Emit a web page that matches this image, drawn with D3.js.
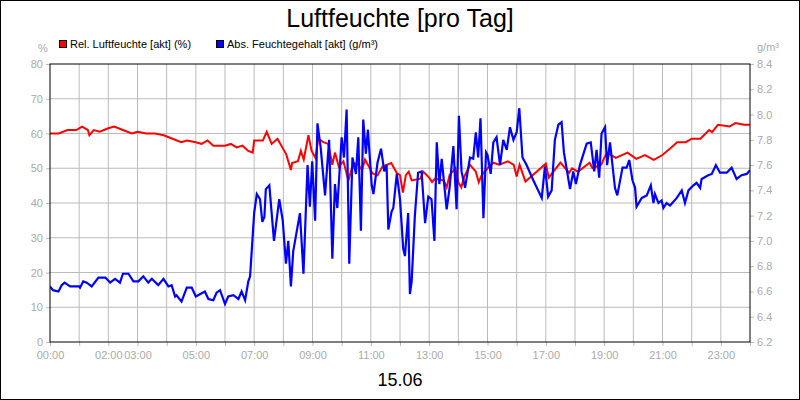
<!DOCTYPE html>
<html><head><meta charset="utf-8">
<script src="https://cdn.jsdelivr.net/npm/d3@7"></script>
<style>body{margin:0}svg{display:block;font-family:"Liberation Sans",Arial,sans-serif}</style>
</head><body><svg id="c" width="800" height="400"></svg>
<script>
// time in hours, rel. humidity in %
var relTime = [0,0.3,0.6,0.9,1.1,1.3,1.35,1.5,1.7,2.0,2.2,2.5,2.8,3.0,3.3,3.6,3.9,4.2,4.5,4.7,5.0,5.2,5.4,5.6,6.0,6.2,6.4,6.6,6.8,6.95,7.0,7.3,7.43,7.6,7.8,8.1,8.26,8.3,8.5,8.6,8.7,8.86,8.97,9.1,9.2,9.37,9.54,9.68,9.77,9.9,10.06,10.23,10.4,10.57,10.7,10.8,10.9,11.06,11.23,11.4,11.7,11.9,12.0,12.1,12.2,12.3,12.4,12.7,12.8,13.0,13.1,13.2,13.5,13.6,13.7,13.9,14.0,14.1,14.2,14.4,14.6,14.7,14.8,15.0,15.2,15.4,15.7,15.9,16.0,16.1,16.3,17.0,17.1,17.5,17.8,17.9,18.1,18.5,18.6,18.9,19.0,19.1,19.4,19.8,20.1,20.4,20.7,21.0,21.4,21.5,21.8,22.0,22.3,22.6,22.7,22.9,23.3,23.5,23.8,24.0];
var relVals = [60,60,61,61,62,61,59.5,61,60.5,61.5,62,61,60,60.5,60,60,59.5,58.5,57.5,58,57.5,57,58,56.5,56.5,57,56,56.5,55,54.5,58,58,60.5,57,58.5,54,49.5,51.5,52,55,52.5,59.5,55,53,58.5,57.5,57,51,54.5,50.5,52,46.5,51.5,51,49.5,52.5,51,48.5,48,50.5,51.5,48.5,48,43,48,49,46.5,47,49,47.3,46,47,46.5,44.5,48,50,46,44.5,47.5,51,49,46,48,50,51.6,51,52,51,47.6,51,46.2,51.3,47.3,51.6,48.7,50,49,51.6,50,51,53,54.5,53,54.5,52.7,53.8,52.4,53.8,56.7,57.5,57.5,58.5,58.5,61,60.4,62.5,62,63,62.5,62.5];
// time in hours, abs. humidity in g/m³
var absTime = [0,0.1,0.29,0.4,0.5,0.69,1.0,1.03,1.14,1.26,1.43,1.66,1.9,2.06,2.23,2.4,2.5,2.69,2.86,3.03,3.2,3.37,3.49,3.71,3.89,4.06,4.17,4.29,4.34,4.51,4.69,4.86,5.0,5.31,5.43,5.6,5.71,5.83,6.0,6.11,6.29,6.46,6.57,6.69,6.8,6.86,7.0,7.09,7.2,7.28,7.35,7.4,7.52,7.68,7.86,7.98,8.09,8.17,8.26,8.34,8.57,8.69,8.83,8.91,8.99,9.09,9.17,9.28,9.43,9.57,9.68,9.77,9.85,10.0,10.08,10.17,10.26,10.37,10.49,10.57,10.66,10.74,10.83,10.9,11.03,11.09,11.23,11.35,11.46,11.54,11.6,11.71,11.77,11.89,12.0,12.11,12.17,12.28,12.34,12.4,12.51,12.62,12.74,12.86,12.97,13.08,13.18,13.26,13.35,13.43,13.6,13.7,13.83,13.94,14.02,14.11,14.23,14.4,14.51,14.6,14.68,14.76,14.86,14.95,15.0,15.11,15.2,15.31,15.43,15.54,15.66,15.77,15.89,16.0,16.09,16.2,16.34,16.57,16.86,16.97,17.08,17.2,17.31,17.43,17.54,17.62,17.83,17.94,18.03,18.17,18.4,18.54,18.66,18.74,18.83,18.91,19.03,19.1,19.2,19.37,19.45,19.63,19.77,19.86,19.97,20.06,20.11,20.29,20.46,20.6,20.69,20.74,20.86,20.97,21.03,21.14,21.26,21.49,21.66,21.77,21.89,22.06,22.17,22.29,22.34,22.57,22.69,22.83,22.97,23.2,23.37,23.54,23.71,23.89,24.0];
var absVals = [6.64,6.61,6.6,6.65,6.67,6.64,6.64,6.63,6.68,6.67,6.64,6.71,6.71,6.67,6.7,6.67,6.74,6.74,6.68,6.68,6.72,6.67,6.7,6.65,6.7,6.64,6.65,6.56,6.57,6.52,6.63,6.63,6.56,6.6,6.54,6.53,6.59,6.61,6.5,6.56,6.57,6.54,6.6,6.53,6.68,6.72,7.22,7.37,7.33,7.15,7.19,7.41,7.44,7.0,7.33,7.16,6.82,7.0,6.64,6.92,7.22,6.74,7.6,7.27,7.63,7.16,7.93,7.74,7.36,7.8,6.86,7.45,7.26,7.82,7.66,8.04,6.82,7.66,7.53,7.82,7.08,7.96,7.69,7.88,7.44,7.37,7.62,7.73,7.55,7.6,7.09,7.23,7.26,7.53,7.33,6.94,6.88,7.22,6.58,6.68,7.2,7.54,7.55,7.14,7.35,7.33,7.0,7.78,7.45,7.65,7.25,7.42,7.75,7.25,7.99,7.55,7.42,7.66,7.65,7.86,7.66,7.97,7.18,7.7,7.68,7.53,7.78,7.82,7.6,7.8,7.72,7.9,7.8,7.86,8.05,7.66,7.6,7.48,7.34,7.59,7.35,7.4,7.8,7.92,7.94,7.7,7.41,7.55,7.45,7.6,7.77,7.78,7.55,7.72,7.5,7.85,7.9,7.6,7.78,7.42,7.36,7.58,7.58,7.64,7.48,7.42,7.27,7.34,7.36,7.44,7.3,7.37,7.3,7.32,7.26,7.3,7.28,7.34,7.4,7.3,7.4,7.44,7.46,7.42,7.49,7.52,7.53,7.6,7.54,7.54,7.58,7.49,7.52,7.53,7.56];
var xTickHours = [0,2,3,5,7,9,11,13,15,17,19,21,23];
var leftTicks = [0,10,20,30,40,50,60,70,80];
var rightTicks = [6.2,6.4,6.6,6.8,7.0,7.2,7.4,7.6,7.8,8.0,8.2,8.4];

var svg = d3.select("#c");
var L = 50, R = 750, T = 64, B = 342;
var x = d3.scaleLinear().domain([0,24]).range([L,R]);
var yL = d3.scaleLinear().domain([0,80]).range([B,T]);
var yR = d3.scaleLinear().domain([6.2,8.4]).range([B,T]);
var grey = "#bbb";

svg.append("rect").attr("x",0.5).attr("y",0.5).attr("width",799).attr("height",399).attr("fill","#fff").attr("stroke","#000");
svg.append("text").attr("x",400).attr("y",27).attr("text-anchor","middle").attr("font-size",25).text("Luftfeuchte [pro Tag]");

// grid
svg.append("g").selectAll("line").data(d3.range(1,24)).enter().append("line")
  .attr("x1",d=>x(d)).attr("x2",d=>x(d)).attr("y1",T).attr("y2",B).attr("stroke",grey);
svg.append("g").selectAll("line").data(leftTicks.slice(1,-1)).enter().append("line")
  .attr("x1",L).attr("x2",R).attr("y1",d=>yL(d)).attr("y2",d=>yL(d)).attr("stroke",grey);

// axes
var gx = svg.append("g").attr("transform","translate(0,"+B+")")
  .call(d3.axisBottom(x).tickValues(d3.range(0,25)).tickSize(4).tickFormat(d=>xTickHours.indexOf(d)>=0 ? d3.format("02")(d)+":00" : ""));
var gl = svg.append("g").attr("transform","translate("+L+",0)")
  .call(d3.axisLeft(yL).tickValues(leftTicks).tickSize(4));
var gr = svg.append("g").attr("transform","translate("+R+",0)")
  .call(d3.axisRight(yR).tickValues(rightTicks).tickSize(4).tickFormat(d3.format(".1f")));
[gx,gl,gr].forEach(function(g){
  g.select(".domain").remove();
  g.selectAll("line").attr("stroke",grey);
  g.selectAll("text").attr("fill","#aaa").attr("font-size",11).attr("font-family","Liberation Sans,Arial,sans-serif");
});
gx.selectAll("text").attr("dy","0.9em");

var clip = svg.append("clipPath").attr("id","pc").append("rect").attr("x",L).attr("y",T).attr("width",R-L).attr("height",B-T);
svg.append("path").datum(d3.zip(relTime,relVals)).attr("clip-path","url(#pc)")
  .attr("d",d3.line().x(d=>x(d[0])).y(d=>yL(d[1]))).attr("fill","none").attr("stroke","#f00").attr("stroke-width",2);
svg.append("path").datum(d3.zip(absTime,absVals)).attr("clip-path","url(#pc)")
  .attr("d",d3.line().x(d=>x(d[0])).y(d=>yR(d[1]))).attr("fill","none").attr("stroke","#00f").attr("stroke-width",2.2);

svg.append("rect").attr("x",L).attr("y",T).attr("width",R-L).attr("height",B-T).attr("fill","none").attr("stroke","#000");

// units and legend
svg.append("text").attr("x",43).attr("y",52).attr("text-anchor","middle").attr("fill","#aaa").attr("font-size",11).text("%");
svg.append("text").attr("x",768).attr("y",51).attr("text-anchor","middle").attr("fill","#aaa").attr("font-size",11).text("g/m³");
var leg = [["Rel. Luftfeuchte [akt] (%)","#f00",59],["Abs. Feuchtegehalt [akt] (g/m³)","#00f",216]];
leg.forEach(function(l){
  svg.append("rect").attr("x",l[2]+0.5).attr("y",40.5).attr("width",7).attr("height",7).attr("fill",l[1]).attr("stroke","#000");
  svg.append("text").attr("x",l[2]+11).attr("y",48).attr("font-size",11).text(l[0]);
});
svg.append("text").attr("x",400).attr("y",386).attr("text-anchor","middle").attr("font-size",18).text("15.06");
</script></body></html>
